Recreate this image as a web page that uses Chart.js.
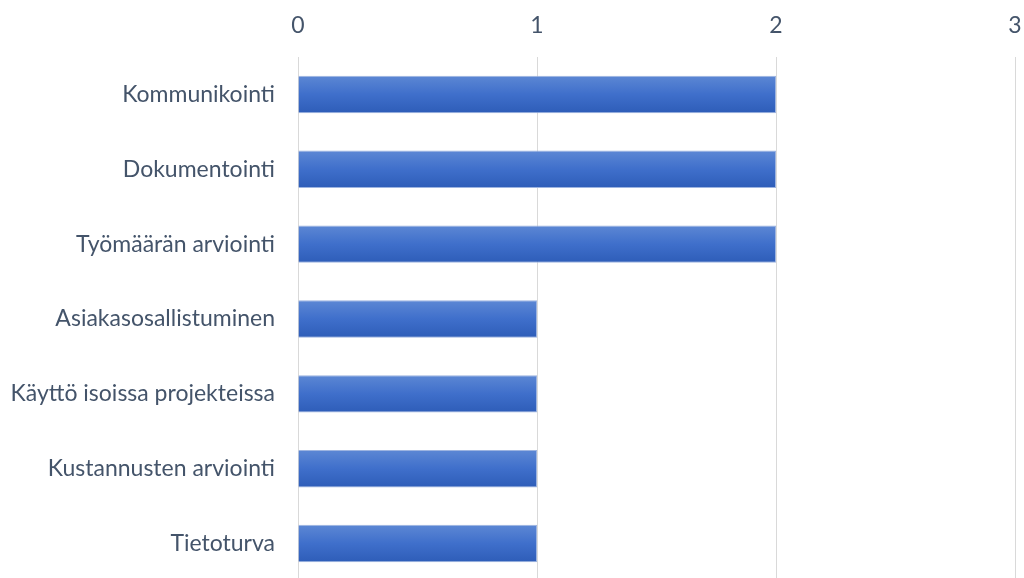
<!DOCTYPE html>
<html>
<head>
<meta charset="utf-8">
<title>Kehitysalueet</title>
<script src="https://cdn.jsdelivr.net/npm/chart.js@4/dist/chart.umd.min.js"></script>
<style>
  html, body { margin: 0; padding: 0; overflow: hidden; background: #fff; width: 1024px; height: 578px; }
  #barChart { position: absolute; left: 0; top: 0; }
</style>
</head>
<body>
<canvas id="barChart" width="1024" height="582"></canvas>
<script>
var categories = ["Kommunikointi", "Dokumentointi", "Työmäärän arviointi", "Asiakasosallistuminen",
	"Käyttö isoissa projekteissa", "Kustannusten arviointi", "Tietoturva"];
var values = [2, 2, 2, 1, 1, 1, 1];
var tickValues = [0, 1, 2, 3];

var textColor = "#44546a";

function barFill(context) {
	var chart = context.chart;
	var yScale = chart.scales.y;
	if (!chart.chartArea || !yScale) {
		return "#4472c4";
	}
	var center = yScale.getPixelForValue(context.dataIndex);
	var half = 18.5;
	var g = chart.ctx.createLinearGradient(0, center - half, 0, center + half);
	g.addColorStop(0, "#5c87d4");
	g.addColorStop(0.5, "#3f6fcb");
	g.addColorStop(1, "#2e5db8");
	return g;
}

new Chart(document.getElementById("barChart"), {
	type: "bar",
	data: {
		labels: categories,
		datasets: [{
			data: values,
			backgroundColor: barFill,
			borderColor: "#9db4e0",
			borderWidth: 1,
			barPercentage: 0.5,
			categoryPercentage: 1
		}]
	},
	options: {
		indexAxis: "y",
		responsive: false,
		animation: false,
		layout: { padding: { top: 12, right: 9, bottom: 1, left: 0 } },
		plugins: { legend: { display: false }, tooltip: { enabled: false } },
		scales: {
			x: {
				position: "top",
				min: 0,
				max: 3,
				afterBuildTicks: function (scale) {
					scale.ticks = tickValues.map(function (v) { return { value: v }; });
				},
				afterFit: function (scale) {
					scale.height = 45;
					scale.paddingLeft = 0;
					scale.paddingRight = 0;
				},
				grid: { color: "#d9d9d9", lineWidth: 1, drawTicks: false },
				border: { display: false },
				ticks: {
					padding: 18,
					color: textColor,
					font: { family: "Lato", size: 23 }
				}
			},
			y: {
				afterFit: function (scale) {
					scale.width = 298;
					scale.paddingTop = 0;
					scale.paddingBottom = 0;
				},
				grid: { display: false },
				border: { display: false },
				ticks: {
					padding: 15,
					color: textColor,
					font: { family: "Lato", size: 23 }
				}
			}
		}
	}
});
</script>
</body>
</html>
